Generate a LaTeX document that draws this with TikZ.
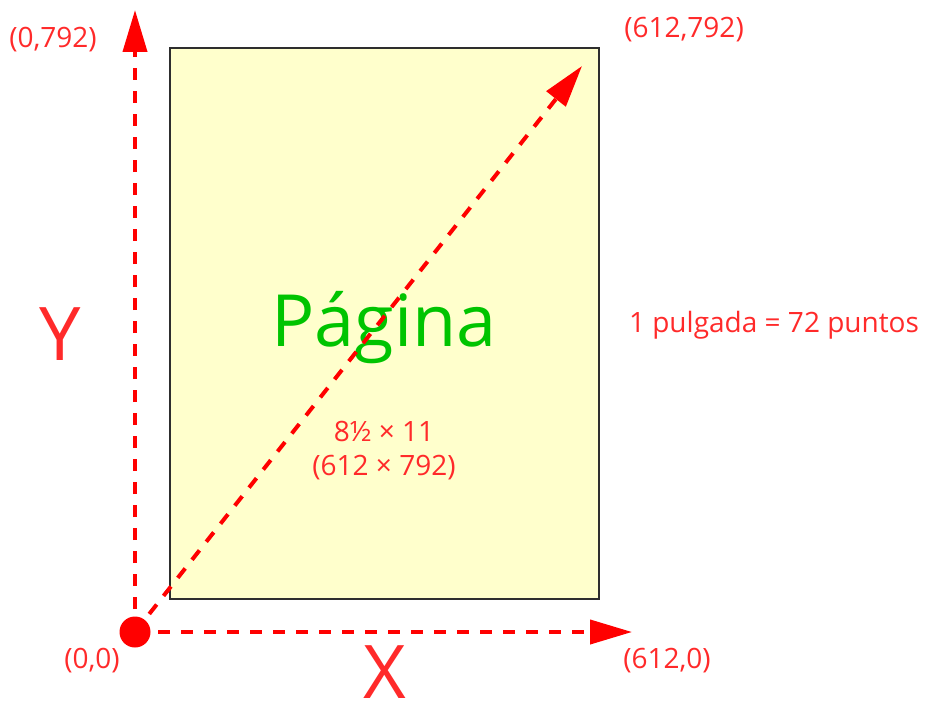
\documentclass[tikz,border=0pt]{standalone}
\usepackage{fontspec}
\setmainfont{Open Sans}
\usetikzlibrary{positioning,arrows.meta}
\definecolor{axisRed}{HTML}{FF0000}
\definecolor{labelRed}{HTML}{FF2A2A}
\definecolor{pageFill}{HTML}{FFFFCC}
\definecolor{pageEdge}{HTML}{2E2E2E}
\definecolor{titleGreen}{HTML}{00C400}
\begin{document}
\begin{tikzpicture}[x=1pt,y=-1pt,
          every node/.style={inner sep=0pt,outer sep=0pt},
          coordLabel/.style={text=labelRed,font=\fontsize{28}{34}\selectfont,align=center},
          bigLetter/.style={text=labelRed,font=\fontsize{74}{78}\selectfont},
          pageBox/.style={draw=pageEdge,line width=1.6pt,fill=pageFill,
                          minimum width=429pt,minimum height=551pt},
          axisLine/.style={draw=axisRed,line width=4pt,
                           dash pattern=on 12pt off 11pt,
                           -{Triangle[length=42pt,width=24pt]}},
          originDot/.style={circle,fill=axisRed,minimum size=31pt},
        ]
        \useasboundingbox (0,0) rectangle (926,706);
        % the page
        \node[pageBox] (page) at (384.5,323.5) {};
        \node[text=titleGreen,font=\fontsize{72}{80}\selectfont,anchor=base] (title) at (384,346) {Página};
        \node[coordLabel] (size) at (384,451) {8½ × 11\\(612 × 792)};
        % axes
        \node[originDot] (origin) at (135,632) {};
        \coordinate (yTip) at (135,10);
        \coordinate (xTip) at (632,632);
        \coordinate (diagTip) at (582,66);
        \draw[axisLine] (origin.center) -- (yTip);
        \draw[axisLine] (origin.center) -- (xTip);
        \draw[axisLine] (origin.center) -- (diagTip);
        % labels
        \node[coordLabel] (topLeft) at (53,40) {(0,792)};
        \node[coordLabel] (topRight) at (684,30) {(612,792)};
        \node[coordLabel] (zero) at (92,661) {(0,0)};
        \node[coordLabel] (rightEnd) at (667,661) {(612,0)};
        \node[coordLabel] (scale) at (774,325) {1 pulgada = 72 puntos};
        \node[bigLetter,anchor=base] (yName) at (60,360) {Y};
        \node[bigLetter,anchor=base] (xName) at (385,698) {X};
      \end{tikzpicture}
\end{document}
